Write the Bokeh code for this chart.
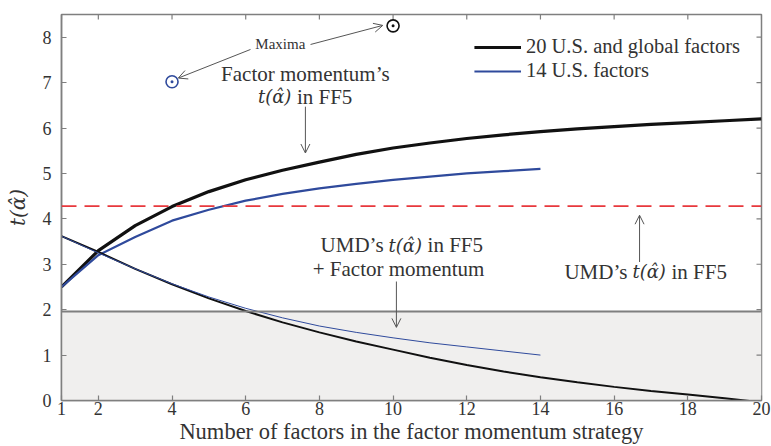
import math
from bokeh.plotting import figure
from bokeh.models import (Range1d, FixedTicker, BoxAnnotation, Span,
                          Label, Arrow, OpenHead, Legend, LegendItem)
from bokeh.embed import file_html
from bokeh.resources import INLINE

# ---------------- data ----------------
x20 = list(range(1, 21))
ff5_20 = [2.5, 3.3, 3.85, 4.27, 4.6, 4.86, 5.07, 5.25, 5.42, 5.56,
          5.67, 5.77, 5.85, 5.92, 5.98, 6.03, 6.08, 6.12, 6.16, 6.2]
umd_20 = [3.62, 3.27, 2.9, 2.56, 2.25, 1.97, 1.72, 1.5, 1.3, 1.12,
          0.94, 0.78, 0.64, 0.51, 0.4, 0.3, 0.21, 0.13, 0.05, -0.04]
x14 = list(range(1, 15))
ff5_14 = [2.5, 3.2, 3.6, 3.96, 4.2, 4.4, 4.55, 4.67, 4.77, 4.86,
          4.93, 5.0, 5.05, 5.1]
umd_14 = [3.62, 3.25, 2.9, 2.57, 2.28, 2.03, 1.82, 1.64, 1.5, 1.38,
          1.27, 1.18, 1.09, 1.0]
max_20 = (10, 8.25)
max_14 = (4, 7.02)
umd_ff5 = 4.28
signif = 1.96
x_ticks = [1, 2, 4, 6, 8, 10, 12, 14, 16, 18, 20]
y_ticks = [0, 1, 2, 3, 4, 5, 6, 7, 8]
X_MIN, X_MAX, Y_MIN, Y_MAX = 1, 20, 0, 8.5

FONT = "Liberation Serif"
MFONT = "DejaVu Serif"
TXT = "#333333"
GRAY = "#7f7f7f"
BLACK = "#111111"
BLUE = "#2f4a9c"
RED = "#e8383d"
MATH = "t(\u03b1\u0302)"

p = figure(width=771, height=446,
           x_range=Range1d(X_MIN, X_MAX), y_range=Range1d(Y_MIN, Y_MAX),
           output_backend="svg", toolbar_location=None,
           min_border_left=61, min_border_right=10, min_border_top=14, min_border_bottom=46)
p.grid.visible = False
p.outline_line_color = GRAY
p.outline_line_width = 1.5
p.background_fill_color = "white"
p.border_fill_color = "white"

p.xaxis.ticker = FixedTicker(ticks=x_ticks)
p.yaxis.ticker = FixedTicker(ticks=y_ticks)
for ax in p.axis:
    ax.axis_line_color = GRAY
    ax.axis_line_width = 1.5
    ax.major_tick_in = 5
    ax.major_tick_out = 0
    ax.minor_tick_in = 0
    ax.minor_tick_out = 0
    ax.major_tick_line_color = GRAY
    ax.major_tick_line_width = 1.2
    ax.major_label_text_font = FONT
    ax.major_label_text_font_size = "18px"
    ax.major_label_text_color = TXT
    ax.axis_label_text_color = TXT
    ax.axis_label_text_font_style = "normal"

bx = p.xaxis[0]
bx.major_label_standoff = 1
bx.axis_label = "Number of factors in the factor momentum strategy"
bx.axis_label_text_font = FONT
bx.axis_label_text_font_size = "22.5px"
bx.axis_label_standoff = 1

ly = p.yaxis[0]
ly.major_label_standoff = 10
ly.axis_label = MATH
ly.axis_label_text_font = MFONT
ly.axis_label_text_font_size = "20px"
ly.axis_label_text_font_style = "italic"
ly.axis_label_standoff = 10

# inward ticks on the top and right frame edges
p.scatter(x_ticks, [Y_MAX] * len(x_ticks), marker="dash", size=10, angle=math.pi / 2,
          line_color=GRAY, line_width=1.2)
p.scatter([X_MAX] * len(y_ticks), y_ticks, marker="dash", size=10,
          line_color=GRAY, line_width=1.2)

# shaded insignificance band
p.add_layout(BoxAnnotation(bottom=Y_MIN, top=signif, fill_color="#f0efee", fill_alpha=1,
                           line_color=None, level="underlay"))
p.add_layout(Span(location=signif, dimension="width", line_color=GRAY, line_width=2))
p.add_layout(Span(location=umd_ff5, dimension="width", line_color=RED, line_width=1.6,
                  line_dash="15 8"))

r20 = p.line(x20, ff5_20, line_color=BLACK, line_width=3.2)
r14 = p.line(x14, ff5_14, line_color=BLUE, line_width=2.2)
p.line(x20, umd_20, line_color=BLACK, line_width=2)
p.line(x14, umd_14, line_color=BLUE, line_width=1)

p.scatter([max_20[0]], [max_20[1]], marker="circle_dot", size=12, fill_color=None,
          line_color=BLACK, line_width=1.6)
p.scatter([max_14[0]], [max_14[1]], marker="circle_dot", size=12, fill_color=None,
          line_color=BLUE, line_width=1.6)


def lab(x, y, t, size="21px", align="center", xoff=0, font=FONT, style="normal"):
    p.add_layout(Label(x=x, y=y, text=t, text_align=align, text_baseline="middle",
                       x_offset=xoff, text_font=font, text_font_size=size,
                       text_font_style=style, text_color=TXT))


def mixed(x, y, left, right, wl, wr, wm=34, gap=5):
    # one line "left  t(alpha-hat)  right", centred on x (widths in px)
    start = -(wl + (gap if left else 0) + wm + gap + wr) / 2.0
    pos = start
    if left:
        pos += wl
        lab(x, y, left, align="right", xoff=pos)
        pos += gap
    lab(x, y, MATH, size="18px", align="left", xoff=pos, font=MFONT, style="italic")
    pos += wm + gap
    lab(x, y, right, align="left", xoff=pos)


def arr(x0, y0, x1, y1):
    p.add_layout(Arrow(end=OpenHead(size=9, line_color="#555555", line_width=1),
                       x_start=x0, y_start=y0, x_end=x1, y_end=y1,
                       line_color="#555555", line_width=1))


lab(6.94, 7.86, "Maxima", "15px")
arr(6.13, 7.73, 4.17, 7.1)
arr(7.76, 7.84, 9.72, 8.26)

lab(7.62, 7.2, "Factor momentum\u2019s")
mixed(7.62, 6.69, "", "in FF5", 0, 56)
arr(7.62, 6.47, 7.62, 5.45)

mixed(10.23, 3.42, "UMD\u2019s", "in FF5", 64, 56)
lab(10.15, 2.9, "+ Factor momentum")
arr(10.09, 2.62, 10.09, 1.61)

mixed(16.85, 2.83, "UMD\u2019s", "in FF5", 64, 56)
arr(16.69, 3.05, 16.69, 4.08)

legend = Legend(items=[LegendItem(label="20 U.S. and global factors", renderers=[r20]),
                       LegendItem(label="14 U.S. factors", renderers=[r14])],
                location="top_right", margin=21, padding=0, spacing=1,
                glyph_width=47, glyph_height=20, label_height=20, label_standoff=5,
                label_text_font=FONT, label_text_font_size="20.5px", label_text_color=TXT,
                border_line_color=None, background_fill_alpha=0)
p.add_layout(legend)

open("out.html", "w").write(file_html(p, INLINE))
